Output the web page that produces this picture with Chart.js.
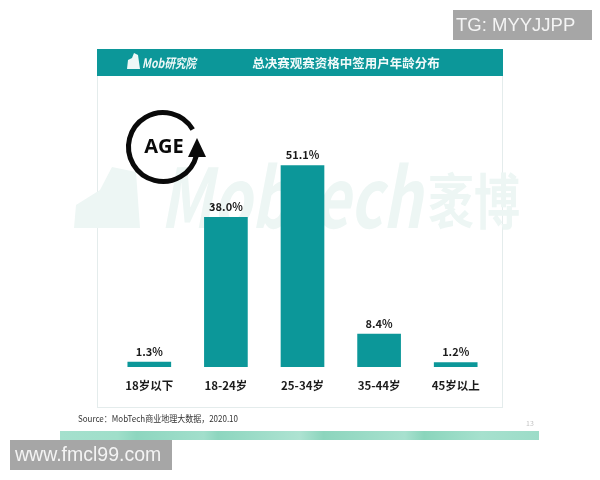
<!DOCTYPE html>
<html>
<head>
<meta charset="utf-8">
<style>
  html, body { margin: 0; padding: 0; background: #fff; }
  #wrap { width: 600px; height: 480px; position: relative; }
</style>
<script src="https://cdn.jsdelivr.net/npm/chart.js@4"></script>
</head>
<body>
<div id="wrap"><canvas id="myChart" width="600" height="480"></canvas></div>
<script>
const categories = ['18岁以下', '18-24岁', '25-34岁', '35-44岁', '45岁以上'];
const shares = [1.3, 38.0, 51.1, 8.4, 1.2];
const chartTitle = '总决赛观赛资格中签用户年龄分布';
const sourceText = 'Source：MobTech商业地理大数据，2020.10';
const FONT = '"Noto Sans CJK SC", "Noto Sans", sans-serif';
const TEAL = '#0c9799';

function poly(ctx, pts) {
    ctx.beginPath();
    pts.forEach((p, i) => i ? ctx.lineTo(p[0], p[1]) : ctx.moveTo(p[0], p[1]));
    ctx.closePath();
    ctx.fill();
}

// fons: marc, capçalera, marca d'aigua
const backdrop = {
    id: 'backdrop',
    beforeDraw(chart) {
        const ctx = chart.ctx;
        ctx.save();
        ctx.fillStyle = '#fff';
        ctx.fillRect(0, 0, 600, 480);

        ctx.strokeStyle = '#e4ecec';
        ctx.lineWidth = 1;
        ctx.strokeRect(97.5, 49.5, 405, 358);
        ctx.fillStyle = TEAL;
        ctx.fillRect(97, 49, 406, 27);

        // marca d'aigua
        ctx.fillStyle = '#edf6f4';
        poly(ctx, [[74, 228], [76, 205], [100, 190], [112, 167], [136, 172], [140, 228]]);
        ctx.textBaseline = 'alphabetic';
        ctx.font = 'italic bold 82px ' + FONT;
        ctx.fillText('Mobtech', 160, 228, 262);
        ctx.font = 'bold 60px ' + FONT;
        ctx.fillText('袤博', 428, 224, 92);

        // logo
        ctx.fillStyle = '#eef8f7';
        poly(ctx, [[127, 69], [128, 60], [132, 58], [134, 53], [138, 55], [140, 69]]);
        ctx.textBaseline = 'middle';
        ctx.font = 'italic bold 13px ' + FONT;
        ctx.fillText('Mob研究院', 142, 63, 54);

        ctx.fillStyle = '#f2fafa';
        ctx.textAlign = 'center';
        ctx.font = 'bold 12.5px ' + FONT;
        ctx.fillText(chartTitle, 346, 63);
        ctx.restore();
    },
    afterDraw(chart) {
        const ctx = chart.ctx;
        ctx.save();

        // icona AGE
        ctx.strokeStyle = '#0a0a0a';
        ctx.lineWidth = 5;
        ctx.beginPath();
        ctx.arc(163, 147, 34.5, 0.08 * Math.PI, 1.83 * Math.PI);
        ctx.stroke();
        ctx.fillStyle = '#0a0a0a';
        poly(ctx, [[188, 157], [197, 138], [206, 157]]);
        ctx.textAlign = 'center';
        ctx.textBaseline = 'middle';
        ctx.font = 'bold 20px "Open Sans", ' + FONT;
        ctx.fillText('AGE', 164, 147);

        // peu
        ctx.textAlign = 'left';
        ctx.fillStyle = '#333';
        ctx.font = '9px ' + FONT;
        ctx.fillText(sourceText, 78, 419, 160);
        ctx.fillStyle = '#c4c4c4';
        ctx.font = '7px ' + FONT;
        ctx.fillText('13', 526, 423);

        const band = ctx.createLinearGradient(60, 0, 539, 0);
        band.addColorStop(0, '#a4e0cd');
        band.addColorStop(0.12, '#a0dfca');
        band.addColorStop(0.16, '#8dd6bf');
        band.addColorStop(0.3, '#a2dfcc');
        band.addColorStop(0.33, '#8dd6bf');
        band.addColorStop(0.5, '#aee3d2');
        band.addColorStop(0.55, '#8cd5bd');
        band.addColorStop(0.72, '#a8e1cf');
        band.addColorStop(0.76, '#8ad5bc');
        band.addColorStop(0.88, '#a6e1ce');
        band.addColorStop(1, '#9cdcc8');
        ctx.fillStyle = band;
        ctx.fillRect(60, 431, 479, 9);

        // segells de text
        ctx.fillStyle = '#a6a6a6';
        ctx.fillRect(453, 10, 139, 30);
        ctx.fillRect(10, 440, 162, 30);
        ctx.fillStyle = '#f4f4f4';
        ctx.font = '18.5px "Liberation Sans", sans-serif';
        ctx.fillText('TG: MYYJJPP', 456, 26);
        ctx.font = '19.5px "Liberation Sans", sans-serif';
        ctx.fillText('www.fmcl99.com', 15, 456);
        ctx.restore();
    }
};

// etiquetes de valor sobre cada barra
const valueLabels = {
    id: 'valueLabels',
    afterDatasetsDraw(chart) {
        const ctx = chart.ctx;
        ctx.save();
        ctx.fillStyle = '#1c1c1c';
        ctx.font = 'bold 11px ' + FONT;
        ctx.textAlign = 'center';
        ctx.textBaseline = 'bottom';
        chart.getDatasetMeta(0).data.forEach((bar, i) => {
            ctx.fillText(shares[i].toFixed(1) + '%', bar.x, bar.y - 5);
        });
        ctx.restore();
    }
};

new Chart(document.getElementById('myChart').getContext('2d'), {
    type: 'bar',
    data: {
        labels: categories,
        datasets: [{
            data: shares,
            backgroundColor: TEAL,
            borderWidth: 0,
            barPercentage: 0.57,
            categoryPercentage: 1
        }]
    },
    options: {
        responsive: false,
        animation: false,
        layout: { padding: { left: 111, right: 106, top: 130, bottom: 0 } },
        plugins: { legend: { display: false }, tooltip: { enabled: false } },
        scales: {
            x: {
                grid: { display: false, drawTicks: false },
                border: { display: false },
                afterFit: scale => { scale.height = 113; },
                ticks: {
                    padding: 12,
                    maxRotation: 0,
                    color: '#1c1c1c',
                    font: { family: FONT, size: 11.5, weight: 'bold' }
                }
            },
            y: { display: false, min: 0, max: 60 }
        }
    },
    plugins: [backdrop, valueLabels]
});
</script>
</body>
</html>
